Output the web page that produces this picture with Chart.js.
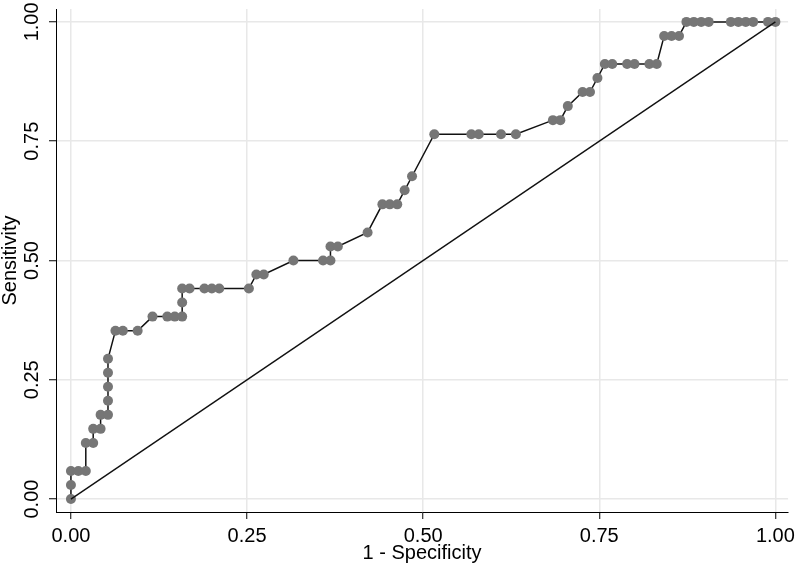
<!DOCTYPE html>
<html>
<head>
<meta charset="utf-8">
<script src="https://cdn.jsdelivr.net/npm/chart.js@4/dist/chart.umd.min.js"></script>
<style>
  html, body { margin: 0; padding: 0; background: #ffffff; }
  #wrap { width: 800px; height: 570px; position: relative; }
</style>
</head>
<body>
<div id="wrap"><canvas id="c" width="800" height="570"></canvas></div>
<script>
// 1 - Specificity (false positive rate)
const fpr = [
  0, 0, 0, 0.0105, 0.0211, 0.0211, 0.0316, 0.0316, 0.0421, 0.0421,
  0.0526, 0.0526, 0.0526, 0.0526, 0.0526, 0.0632, 0.0737, 0.0947, 0.1158, 0.1368,
  0.1474, 0.1579, 0.1579, 0.1579, 0.1684, 0.1895, 0.2, 0.2105, 0.2526, 0.2632,
  0.2737, 0.3158, 0.3579, 0.3684, 0.3684, 0.3789, 0.4211, 0.4421, 0.4526, 0.4632,
  0.4737, 0.4842, 0.5158, 0.5684, 0.5789, 0.6105, 0.6316, 0.6842, 0.6947, 0.7053,
  0.7263, 0.7368, 0.7474, 0.7579, 0.7684, 0.7895, 0.8, 0.8211, 0.8316, 0.8421,
  0.8526, 0.8632, 0.8737, 0.8842, 0.8947, 0.9053, 0.9368, 0.9474, 0.9579, 0.9684,
  0.9895, 1
];
// Sensitivity
const sensitivity = [
  0, 0.0294, 0.0588, 0.0588, 0.0588, 0.1176, 0.1176, 0.1471, 0.1471, 0.1765,
  0.1765, 0.2059, 0.2353, 0.2647, 0.2941, 0.3529, 0.3529, 0.3529, 0.3824, 0.3824,
  0.3824, 0.3824, 0.4118, 0.4412, 0.4412, 0.4412, 0.4412, 0.4412, 0.4412, 0.4706,
  0.4706, 0.5, 0.5, 0.5, 0.5294, 0.5294, 0.5588, 0.6176, 0.6176, 0.6176,
  0.6471, 0.6765, 0.7647, 0.7647, 0.7647, 0.7647, 0.7647, 0.7941, 0.7941, 0.8235,
  0.8529, 0.8529, 0.8824, 0.9118, 0.9118, 0.9118, 0.9118, 0.9118, 0.9118, 0.9706,
  0.9706, 0.9706, 1, 1, 1, 1, 1, 1, 1, 1,
  1, 1
];
// Reference (chance) line
const refX = [0, 1];
const refY = [0, 1];
// Tick values / labels
const tickValues = [0, 0.25, 0.5, 0.75, 1];
const tickLabels = ["0.00", "0.25", "0.50", "0.75", "1.00"];
const xTitle = "1 - Specificity";
const yTitle = "Sensitivity";

const rocPoints = fpr.map((x, i) => ({ x: x, y: sensitivity[i] }));
const refPoints = refX.map((x, i) => ({ x: x, y: refY[i] }));

const FONT = "'Liberation Sans', Arial, Helvetica, sans-serif";

const fixedTicks = (scale) => {
  scale.ticks = tickValues.map(v => ({ value: v }));
};
const fmt = (value) => {
  const i = tickValues.indexOf(value);
  return i >= 0 ? tickLabels[i] : '';
};

new Chart(document.getElementById('c'), {
  type: 'scatter',
  data: {
    datasets: [
      {
        label: 'Reference',
        data: refPoints,
        showLine: true,
        borderColor: '#111111',
        borderWidth: 1.4,
        pointRadius: 0,
        order: 0
      },
      {
        label: 'ROC',
        data: rocPoints,
        showLine: true,
        borderColor: '#111111',
        borderWidth: 1.5,
        pointRadius: 5,
        pointBackgroundColor: '#767676',
        pointBorderColor: '#767676',
        pointBorderWidth: 0,
        order: 1
      }
    ]
  },
  options: {
    responsive: false,
    animation: false,
    events: [],
    layout: { padding: { top: 7, right: 8, left: 0, bottom: 0 } },
    plugins: {
      legend: { display: false },
      tooltip: { enabled: false }
    },
    scales: {
      x: {
        type: 'linear',
        min: -0.0212,
        max: 1.018,
        afterBuildTicks: fixedTicks,
        afterFit: (s) => { s.height = 58; },
        grid: {
          color: '#e8e8e8',
          lineWidth: 1.5,
          tickColor: '#000000',
          tickWidth: 1,
          tickLength: 7,
          drawOnChartArea: true
        },
        border: { display: true, color: '#000000', width: 1 },
        ticks: {
          callback: fmt,
          color: '#000000',
          font: { family: FONT, size: 20 },
          padding: 5,
          maxRotation: 0,
          autoSkip: false
        },
        title: {
          display: true,
          text: xTitle,
          color: '#000000',
          font: { family: FONT, size: 20, lineHeight: 1 },
          padding: { top: 0, bottom: 7 }
        }
      },
      y: {
        type: 'linear',
        min: -0.0271,
        max: 1.027,
        afterBuildTicks: fixedTicks,
        afterFit: (s) => { s.width = 56; },
        grid: {
          color: '#e8e8e8',
          lineWidth: 1.5,
          tickColor: '#000000',
          tickWidth: 1,
          tickLength: 7,
          drawOnChartArea: true
        },
        border: { display: true, color: '#000000', width: 1 },
        ticks: {
          callback: fmt,
          color: '#000000',
          font: { family: FONT, size: 20 },
          minRotation: 90,
          maxRotation: 90,
          crossAlign: 'center',
          padding: -3,
          autoSkip: false
        },
        title: {
          display: true,
          text: yTitle,
          color: '#000000',
          font: { family: FONT, size: 20, lineHeight: 1 },
          padding: { top: 0, bottom: 0 }
        }
      }
    }
  }
});
</script>
</body>
</html>
